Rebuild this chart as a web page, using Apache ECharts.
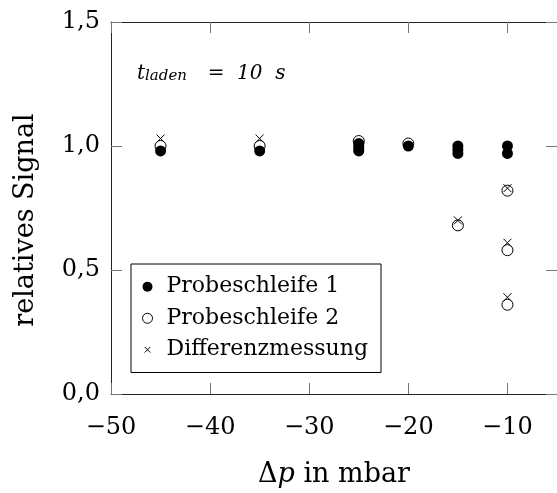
<!DOCTYPE html>
<html>
<head>
<meta charset="utf-8">
<script src="https://cdn.jsdelivr.net/npm/echarts@6/dist/echarts.min.js"></script>
<style>
  html, body { margin: 0; padding: 0; background: #fff; }
  #chart { width: 557px; height: 493px; }
</style>
</head>
<body>
<div id="chart"></div>
<script>
// Pressure difference (mbar) and relative signal for each measurement series
const loop1Pressure = [-45, -35, -25, -25, -25, -25, -20, -15, -15, -15, -10, -10];
const loop1Signal   = [0.98, 0.98, 0.98, 0.99, 1.00, 1.01, 1.00, 0.97, 0.985, 1.00, 0.97, 1.00];

const loop2Pressure = [-45, -35, -25, -20, -15, -10, -10, -10];
const loop2Signal   = [1.00, 1.00, 1.02, 1.01, 0.68, 0.82, 0.58, 0.36];

const diffPressure  = [-45, -35, -25, -20, -15, -10, -10, -10];
const diffSignal    = [1.03, 1.03, 1.00, 1.00, 0.70, 0.83, 0.61, 0.39];

const seriesNames = ['Probeschleife 1', 'Probeschleife 2', 'Differenzmessung'];
const xTicks = [-50, -40, -30, -20, -10];
const yTicks = [0, 0.5, 1.0, 1.5];

const pairs = (xs, ys) => xs.map((x, i) => [x, ys[i]]);

const FONT = 'DejaVu Serif';
const crossPath = 'path://M0,0L10,10M10,0L0,10';
const crossIcon = 'path://M0,0M2.2,2.2L7.8,7.8M7.8,2.2L2.2,7.8M10,10';

const fmtX = v => (xTicks.includes(v) ? (v < 0 ? '\u2212' + Math.abs(v) : String(v)) : '');
const fmtY = v => (yTicks.some(t => Math.abs(t - v) < 1e-9) ? v.toFixed(1).replace('.', ',') : '');

const frameLine = { show: true, onZero: false, lineStyle: { color: '#222', width: 1 } };
const innerTick = { show: true, inside: true, length: 11, lineStyle: { color: '#777', width: 1 } };

const chart = echarts.init(document.getElementById('chart'), null, { renderer: 'canvas' });

chart.setOption({
  animation: false,
  backgroundColor: '#fff',
  grid: { left: 111, top: 22, width: 448, height: 374.5, containLabel: false },
  xAxis: [
    {
      type: 'value', position: 'bottom', min: -50, max: -5, interval: 10,
      axisLine: frameLine, axisTick: innerTick, splitLine: { show: false },
      axisLabel: {
        formatter: fmtX, fontFamily: FONT, fontSize: 24, color: '#000', margin: 22,
        showMaxLabel: false
      },
      name: '{a|\u0394}{i|p}{a| in mbar}', nameLocation: 'middle', nameGap: 67,
      nameTextStyle: {
        rich: {
          a: { fontFamily: FONT, fontSize: 27, color: '#000' },
          i: { fontFamily: FONT, fontSize: 27, fontStyle: 'italic', color: '#000' }
        }
      }
    },
    {
      type: 'value', position: 'top', min: -50, max: -5, interval: 10,
      axisLine: frameLine, axisTick: innerTick, splitLine: { show: false },
      axisLabel: { show: false }
    }
  ],
  yAxis: [
    {
      type: 'value', position: 'left', min: 0, max: 1.5, interval: 0.5,
      axisLine: frameLine, axisTick: innerTick, splitLine: { show: false },
      axisLabel: {
        formatter: fmtY, fontFamily: FONT, fontSize: 24, color: '#000', margin: 11,
        padding: [0, 0, 10, 0]
      },
      name: 'relatives Signal', nameLocation: 'middle', nameGap: 72, nameRotate: 90,
      nameTextStyle: { fontFamily: FONT, fontSize: 27, color: '#000', padding: [0, 24, 0, 0] }
    },
    {
      type: 'value', position: 'right', min: 0, max: 1.5, interval: 0.5,
      axisLine: { show: false }, axisTick: innerTick, splitLine: { show: false },
      axisLabel: { show: false }
    }
  ],
  legend: {
    orient: 'vertical', left: 131, top: 264,
    backgroundColor: '#fff', borderColor: '#000', borderWidth: 1, borderRadius: 0,
    padding: [10, 13, 10, 11], itemGap: 6, itemWidth: 22, itemHeight: 10,
    textStyle: { fontFamily: FONT, fontSize: 22, color: '#000', lineHeight: 25.5, padding: [0, 0, 0, 3] },
    selectedMode: false,
    data: [
      { name: seriesNames[0], icon: 'circle', itemStyle: { color: '#000', borderWidth: 0, opacity: 1 } },
      { name: seriesNames[1], icon: 'circle', itemStyle: { color: 'rgba(0,0,0,0)', borderColor: '#000', borderWidth: 1, opacity: 1 } },
      { name: seriesNames[2], icon: crossIcon, itemStyle: { color: 'rgba(0,0,0,0)', borderColor: '#000', borderWidth: 1, opacity: 1 } }
    ]
  },
  graphic: [
    {
      type: 'text', left: 137, top: 64, z: 10,
      style: {
        text: '{m|t}{s|laden}{m|  =  10  s}',
        rich: {
          m: { fontFamily: FONT, fontStyle: 'italic', fontSize: 20, color: '#000', verticalAlign: 'bottom', lineHeight: 24 },
          s: { fontFamily: FONT, fontStyle: 'italic', fontSize: 15, color: '#000', verticalAlign: 'bottom', lineHeight: 19, padding: [0, 8, 0, 0] }
        }
      }
    }
  ],
  series: [
    {
      name: seriesNames[0], type: 'scatter', xAxisIndex: 0, yAxisIndex: 0,
      symbol: 'circle', symbolSize: 11,
      itemStyle: { color: '#000', borderWidth: 0, opacity: 1 },
      data: pairs(loop1Pressure, loop1Signal), z: 2
    },
    {
      name: seriesNames[1], type: 'scatter', xAxisIndex: 0, yAxisIndex: 0,
      symbol: 'circle', symbolSize: 11,
      itemStyle: { color: 'rgba(0,0,0,0)', borderColor: '#000', borderWidth: 1, opacity: 1 },
      data: pairs(loop2Pressure, loop2Signal), z: 3
    },
    {
      name: seriesNames[2], type: 'scatter', xAxisIndex: 0, yAxisIndex: 0,
      symbol: crossPath, symbolSize: 8,
      itemStyle: { color: 'rgba(0,0,0,0)', borderColor: '#000', borderWidth: 1, opacity: 1 },
      data: pairs(diffPressure, diffSignal), z: 4
    }
  ]
});
</script>
</body>
</html>
